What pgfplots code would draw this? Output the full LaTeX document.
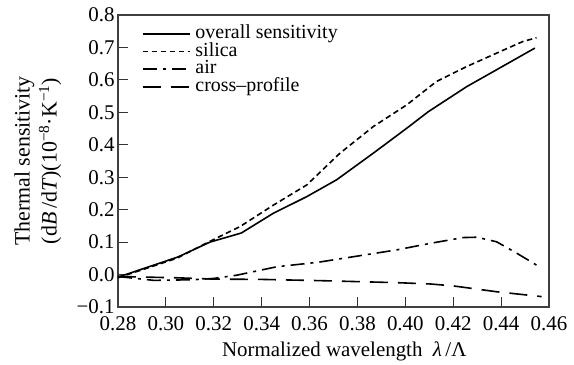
\documentclass[border=0pt]{standalone}
\usepackage{fontspec}
\setmainfont{Liberation Serif}
\usepackage{pgfplots}
\pgfplotsset{compat=1.18}

\pgfplotstableread{
x       y
0.2800  -0.008
0.3050   0.054
0.3184   0.100
0.3315   0.128
0.3449   0.189
0.3588   0.240
0.3713   0.292
0.3866   0.374
0.4006   0.451
0.4096   0.502
0.4256   0.579
0.4541   0.698
}\overall

\pgfplotstableread{
x       y
0.2800  -0.010
0.3045   0.050
0.3180   0.101
0.3310   0.148
0.3449   0.214
0.3588   0.276
0.3727   0.374
0.3866   0.456
0.4006   0.523
0.4130   0.595
0.4256   0.641
0.4395   0.687
0.4490   0.718
0.4548   0.730
}\silica

\pgfplotstableread{
x       y
0.2800  -0.006
0.2950  -0.018
0.3112  -0.016
0.3200  -0.012
0.3296  -0.002
0.3463   0.024
0.3637   0.038
0.3964   0.076
0.4103   0.096
0.4242   0.114
0.4298   0.115
0.4381   0.101
0.4465   0.066
0.4555   0.026
}\air

\pgfplotstableread{
x       y
0.2800  -0.006
0.3045  -0.010
0.3200  -0.014
0.3400  -0.015
0.3656  -0.019
0.3964  -0.025
0.4103  -0.029
0.4200  -0.035
0.4381  -0.053
0.4569  -0.068
}\cross

\begin{document}
\begin{tikzpicture}
\begin{axis}[
  scale only axis,
  width=431bp, height=292bp,
  xmin=0.28, xmax=0.46,
  ymin=-0.1, ymax=0.8,
  xtick={0.28,0.30,0.32,0.34,0.36,0.38,0.40,0.42,0.44,0.46},
  xticklabels={0.28,0.30,0.32,0.34,0.36,0.38,0.40,0.42,0.44,0.46},
  ytick={-0.1,0,0.1,0.2,0.3,0.4,0.5,0.6,0.7,0.8},
  yticklabels={−0.1,0.0,0.1,0.2,0.3,0.4,0.5,0.6,0.7,0.8},
  xtick pos=left, ytick pos=left,
  tick align=inside,
  major tick length=10bp,
  axis line style={line width=1.1bp, black!75},
  every tick/.style={line width=1bp, black!80},
  tick label style={font=\fontsize{21}{24}\selectfont},
  xticklabel style={yshift=-6bp},
  xlabel={Normalized wavelength\ \ \textit{λ}\,/Λ},
  xlabel style={font=\fontsize{21}{24}\selectfont, at={(axis description cs:0.525,0)}, anchor=base, yshift=-50bp},
  ylabel={Thermal sensitivity\\(d\textit{B}\,/d\textit{T})(10\textsuperscript{−8}·K\textsuperscript{−1})},
  ylabel style={font=\fontsize{22}{27}\selectfont, align=center, at={(axis description cs:-0.186,0.5)}, anchor=center},
  legend cell align=left,
  legend style={
    draw=none, fill=none,
    at={(axis description cs:0.055,0.966)}, anchor=north west,
    inner sep=0pt,
    font=\fontsize{20}{20}\selectfont,
    nodes={inner ysep=0.3bp, inner xsep=5bp, text height=13bp, text depth=4bp},
  },
  legend image code/.code={\draw[#1] (0bp,0bp) -- (47bp,0bp);},
]
\addplot[black, line width=1.6bp] table[x=x,y=y] {\overall};
\addlegendentry{overall sensitivity}
\addplot[black, line width=1.6bp, dash pattern=on 5.5bp off 3.5bp] table[x=x,y=y] {\silica};
\addlegendentry{silica}
\addplot[black, line width=1.6bp, dash pattern=on 14bp off 6bp on 3bp off 6bp] table[x=x,y=y] {\air};
\addlegendentry{air}
\addplot[black, line width=1.6bp, dash pattern=on 18bp off 10bp] table[x=x,y=y] {\cross};
\addlegendentry{cross–profile}
\end{axis}
\path (current axis.south west) ++(-118bp,-58bp) coordinate (bbsw);
\path (current axis.north east) ++(25bp,15bp) coordinate (bbne);
\path (bbsw) rectangle (bbne);
\end{tikzpicture}
\end{document}
